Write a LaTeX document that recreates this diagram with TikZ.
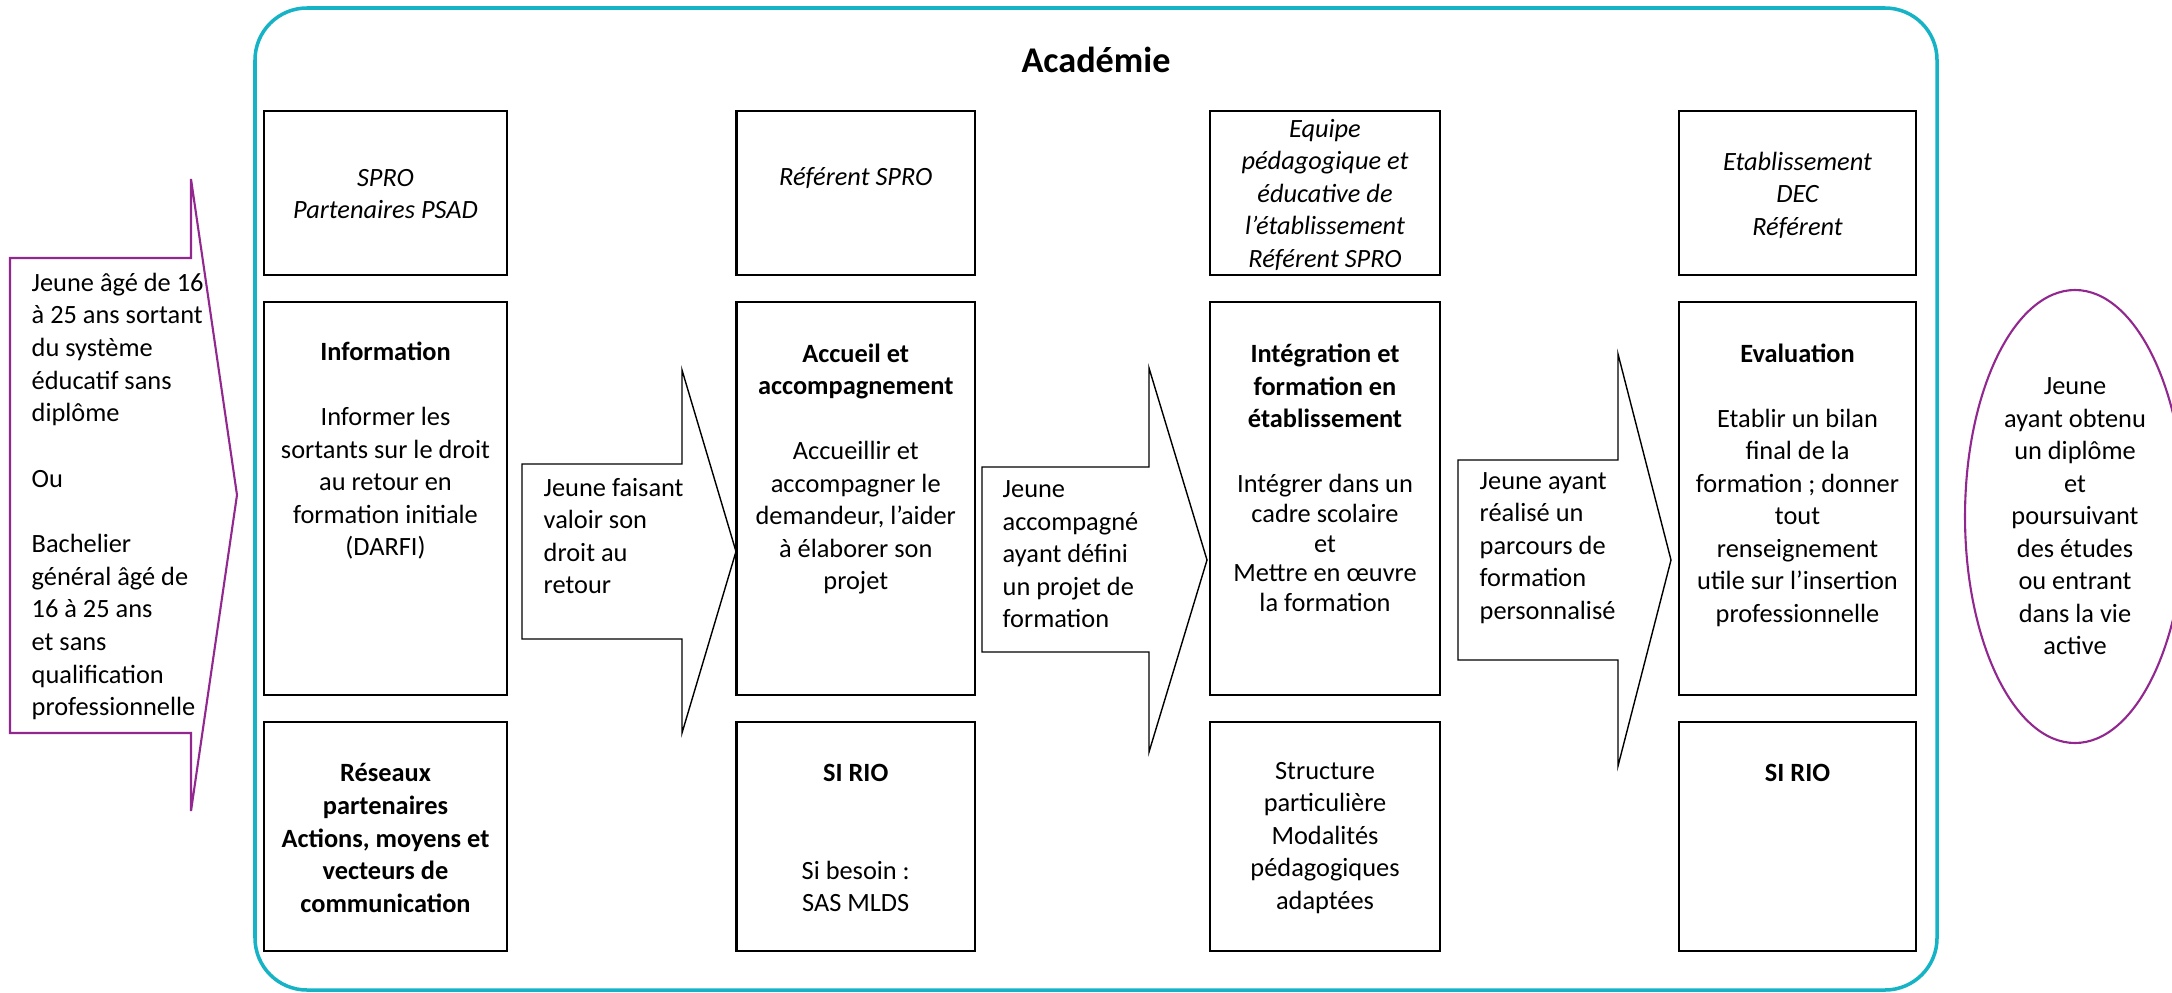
\documentclass[tikz,border=0pt]{standalone}
\usepackage{fontspec}
\setmainfont{Carlito}
\usetikzlibrary{fit,shapes.geometric}
\definecolor{academy}{RGB}{22,178,197}
\definecolor{plum}{RGB}{146,39,143}
\tikzstyle{cell}=[draw, line width=0.65pt, inner sep=0pt]
\tikzstyle{flow}=[draw, line width=0.4pt]
\tikzstyle{entry}=[draw=plum, line width=0.6pt]
\tikzstyle{txt}=[font=\fontsize{7.5}{9.25}\selectfont, align=center, inner sep=0pt]
\tikzstyle{actor}=[txt, font=\fontsize{7.5}{9.25}\selectfont\itshape]
\tikzstyle{ltxt}=[txt, align=left, anchor=west]

\begin{document}
\begin{tikzpicture}[x=0.1mm, y=-0.1mm]
	\useasboundingbox (0,0) rectangle (2172,992);
	\draw[academy, line width=1pt, rounded corners=5.2mm] (255,8) rectangle (1937,990);
	\node[font=\fontsize{10.3}{12}\selectfont\bfseries] (acad) at (1096,60) {Académie};
	\foreach \n/\xa/\xb in {1/264/507, 2/736.5/975, 3/1210/1440, 4/1679/1916} {
		\node[cell, fit={(\xa,111) (\xb,275)}] (top\n) {};
		\node[cell, fit={(\xa,302) (\xb,695)}] (mid\n) {};
		\node[cell, fit={(\xa,722) (\xb,951)}] (bot\n) {};
	}
	\foreach \xa/\xb/\xt/\sa/\sb/\ha/\hb in {522/682/736/464/639/370/733, 982/1149/1207/467/652/368/752, 1458/1618/1671/460/660/354/766}
		\path[flow] (\xa,\sa) -- (\xb,\sa) -- (\xb,\ha) -- (\xt,{(\ha+\hb)/2}) -- (\xb,\hb) -- (\xb,\sb) -- (\xa,\sb) -- cycle;
	\path[entry] (10,258) -- (191,258) -- (191,179) -- (237,495) -- (191,811) -- (191,733) -- (10,733) -- cycle;

	\node[ltxt, font=\fontsize{7.5}{9.3}\selectfont] (who) at (31,496.5) {Jeune âgé de 16\\ à 25 ans sortant\\ du système\\ éducatif sans\\ diplôme\\[9.3pt] Ou\\[9.3pt] Bachelier\\ général âgé de\\ 16 à 25 ans\\ et sans\\ qualification\\ professionnelle};

	\node[actor] (a1) at (385.5,194) {SPRO\\ Partenaires PSAD};
	\node[actor] (a2) at (855.75,178) {Référent SPRO};
	\node[actor] (a3) at (1325,194.5) {Equipe\\ pédagogique et\\ éducative de\\ l’établissement\\ Référent SPRO};
	\node[actor] (a4) at (1797.5,195) {Etablissement\\ DEC\\ Référent};

	\node[txt] (s1) at (385.5,451) {\textbf{Information}\\[9.25pt] Informer les\\ sortants sur le droit\\ au retour en\\ formation initiale\\ (DARFI)};
	\node[txt] (s2) at (855.75,469) {\textbf{Accueil et}\\ \textbf{accompagnement}\\[9.25pt] Accueillir et\\ accompagner le\\ demandeur, l’aider\\ à élaborer son\\ projet};
	\node[txt] (s3) at (1325,386) {\textbf{Intégration et}\\ \textbf{formation en}\\ \textbf{établissement}};
	\node[txt, font=\fontsize{7.5}{8.5}\selectfont] (s3b) at (1325,543) {Intégrer dans un\\ cadre scolaire\\ et\\ Mettre en œuvre\\ la formation};
	\node[txt] (s4) at (1797.5,485) {\textbf{Evaluation}\\[9.25pt] Etablir un bilan\\ final de la\\ formation ; donner\\ tout\\ renseignement\\ utile sur l’insertion\\ professionnelle};

	\node[txt, font=\fontsize{7.5}{9.25}\selectfont\bfseries] (r1) at (385.5,838) {Réseaux\\ partenaires\\ Actions, moyens et\\ vecteurs de\\ communication};
	\node[txt] (r2) at (855.75,838) {\textbf{SI RIO}\\[18.5pt] Si besoin :\\ SAS MLDS};
	\node[txt] (r3) at (1325,838) {Structure\\ particulière\\ Modalités\\ pédagogiques\\ adaptées};
	\node[txt] (r4) at (1797.5,773) {\textbf{SI RIO}};

	\node[ltxt] (j1) at (543,536) {Jeune faisant\\ valoir son\\ droit au\\ retour};
	\node[ltxt] (j2) at (1002,554.5) {Jeune\\ accompagné\\ ayant défini\\ un projet de\\ formation};
	\node[ltxt] (j3) at (1479,548) {Jeune ayant\\ réalisé un\\ parcours de\\ formation\\ personnalisé};

	\node[txt, ellipse, draw=plum, line width=0.6pt, minimum width=22mm, minimum height=45.3mm] (done) at (2075,516.5) {Jeune\\ ayant obtenu\\ un diplôme\\ et\\ poursuivant\\ des études\\ ou entrant\\ dans la vie\\ active};
\end{tikzpicture}
\end{document}
